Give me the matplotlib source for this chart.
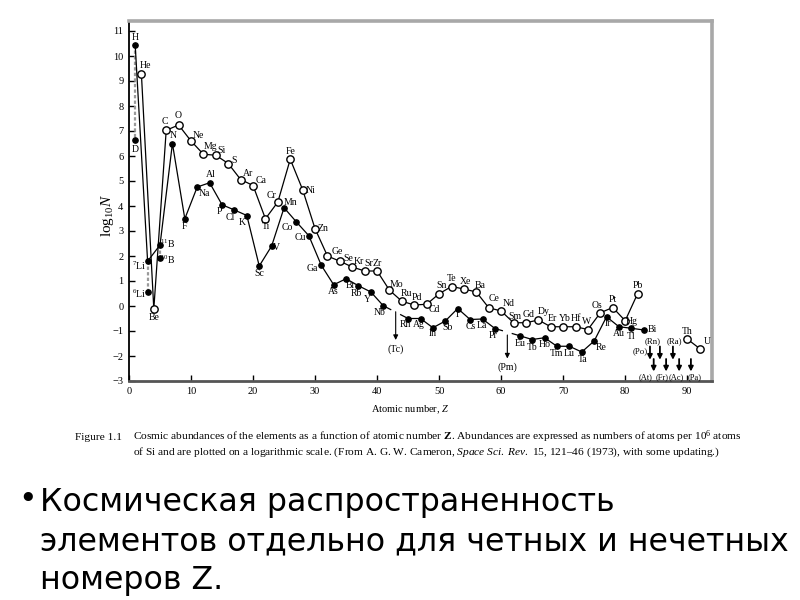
import numpy as np
import matplotlib
matplotlib.use("Agg")
import matplotlib.pyplot as plt

plt.rcParams['font.family'] = ['Liberation Serif', 'DejaVu Serif']
plt.rcParams['mathtext.fontset'] = 'custom'
plt.rcParams['mathtext.rm'] = 'Liberation Serif'
plt.rcParams['mathtext.it'] = 'Liberation Serif:italic'
plt.rcParams['mathtext.bf'] = 'Liberation Serif:bold'

# even Z -> open circles
even_z = list(range(2, 83, 2))
even_names = ['He', 'Be', 'C', 'O', 'Ne', 'Mg', 'Si', 'S', 'Ar', 'Ca', 'Ti', 'Cr', 'Fe', 'Ni',
              'Zn', 'Ge', 'Se', 'Kr', 'Sr', 'Zr', 'Mo', 'Ru', 'Pd', 'Cd', 'Sn', 'Te', 'Xe',
              'Ba', 'Ce', 'Nd', 'Sm', 'Gd', 'Dy', 'Er', 'Yb', 'Hf', 'W', 'Os', 'Pt', 'Hg', 'Pb']
even_logn = [9.28, -0.12, 7.03, 7.24, 6.60, 6.07, 6.03, 5.70, 5.06, 4.82, 3.49, 4.16, 5.87, 4.65,
             3.09, 2.00, 1.79, 1.56, 1.40, 1.40, 0.63, 0.19, 0.04, 0.07, 0.49, 0.78, 0.68,
             0.56, -0.07, -0.20, -0.67, -0.67, -0.56, -0.83, -0.83, -0.83, -0.94, -0.27, -0.06, -0.59, 0.49]

# odd Z -> filled circles (Tc, Pm have no value)
odd_z = list(range(1, 84, 2))
odd_names = ['H', r'$^{7}$Li', r'$^{11}$B', 'N', 'F', 'Na', 'Al', 'P', 'Cl', 'K', 'Sc', 'V', 'Mn', 'Co',
             'Cu', 'Ga', 'As', 'Br', 'Rb', 'Y', 'Nb', 'Tc', 'Rh', 'Ag', 'In', 'Sb', 'I', 'Cs',
             'La', 'Pr', 'Pm', 'Eu', 'Tb', 'Ho', 'Tm', 'Lu', 'Ta', 'Re', 'Ir', 'Au', 'Tl', 'Bi']
odd_logn = [10.43, 1.79, 2.44, 6.50, 3.49, 4.76, 4.93, 4.05, 3.84, 3.62, 1.60, 2.40, 3.93, 3.36,
            2.81, 1.63, 0.85, 1.09, 0.81, 0.56, 0.01, np.nan, -0.50, -0.50, -0.87, -0.60, -0.10, -0.54,
            -0.52, -0.90, np.nan, -1.19, -1.34, -1.27, -1.61, -1.61, -1.84, -1.40, -0.43, -0.83, -0.89, -0.96]

# lighter isotopes plotted under the main ones
iso_z = [1, 3, 5]
iso_names = ['D', r'$^{6}$Li', r'$^{10}$B']
iso_logn = [6.64, 0.56, 1.91]

act_z = [90, 92]
act_names = ['Th', 'U']
act_logn = [-1.32, -1.70]

# unstable elements: arrows (start, tip)
gap_names = ['(Tc)', '(Pm)']
gap_z = [43, 61]
gap_from = [-0.23, -1.16]
gap_to = [-1.36, -2.10]

heavy_top_names = ['(Po)', '(Rn)', '(Ra)']
heavy_top_z = [84, 85.6, 87.7]
heavy_bot_names = ['(At)', '(Fr)', '(Ac)', '(Pa)']
heavy_bot_z = [84.6, 86.6, 88.7, 90.6]

# label offsets in pixels (dx, dy), up is positive
lbl_off = {
    'H': (0, 8), 'D': (0, -10), 'He': (4, 8), r'$^{7}$Li': (-8, -5), r'$^{6}$Li': (-8, -2),
    'Be': (0, -8), r'$^{11}$B': (8, 1), r'$^{10}$B': (8, -2), 'C': (-1, 9), 'O': (0, 9),
    'N': (1, 8), 'F': (0, -8), 'Ne': (7, 6), 'Na': (7, -6), 'Mg': (7, 8), 'Al': (1, 8),
    'Si': (6, 5), 'P': (-3, -7), 'S': (6, 3), 'Cl': (-4, -8), 'Ar': (7, 6), 'K': (-5, -7),
    'Ca': (8, 5), 'Sc': (0, -8), 'Ti': (0, -8), 'V': (5, -1), 'Cr': (-6, 6), 'Mn': (6, 5),
    'Fe': (0, 8), 'Co': (-9, -5), 'Ni': (8, -1), 'Cu': (-8, -2), 'Zn': (8, 0), 'Ga': (-9, -3),
    'Ge': (10, 4), 'As': (0, -7), 'Se': (8, 3), 'Br': (4, -7), 'Kr': (7, 6), 'Rb': (-2, -8),
    'Sr': (4, 8), 'Y': (-4, -7), 'Zr': (0, 8), 'Nb': (-4, -7), 'Mo': (7, 6), 'Ru': (5, 8),
    'Rh': (-3, -6), 'Pd': (3, 7), 'Ag': (-2, -6), 'Cd': (8, -5), 'In': (0, -6), 'Sn': (2, 8),
    'Sb': (2, -7), 'Te': (0, 8), 'I': (0, -6), 'Xe': (2, 8), 'Cs': (1, -7), 'Ba': (4, 7),
    'La': (-1, -6), 'Ce': (5, 9), 'Pr': (-2, -7), 'Nd': (7, 7), 'Sm': (1, 6), 'Eu': (0, -8),
    'Gd': (3, 8), 'Tb': (0, -8), 'Dy': (5, 8), 'Ho': (0, -7), 'Er': (2, 8), 'Tm': (0, -7),
    'Yb': (2, 8), 'Lu': (0, -7), 'Hf': (0, 8), 'Ta': (1, -8), 'W': (-1, 8), 'Re': (7, -7),
    'Os': (-3, 7), 'Ir': (1, -7), 'Pt': (0, 8), 'Au': (0, -7), 'Hg': (6, -1), 'Tl': (0, -8),
    'Pb': (0, 8), 'Bi': (9, 0), 'Th': (0, 8), 'U': (8, 7),
}
# label positions (in Z) of the heavy-element arrows
heavy_top_lbl = [(82.4, -1.82), (84.4, -1.42), (87.9, -1.42)]
heavy_bot_lbl = [83.3, 86.0, 88.3, 91.2]

fig = plt.figure(figsize=(8, 6), dpi=100)
ax = fig.add_axes([129 / 800, 1 - 381 / 600, (712 - 129) / 800, 360 / 600])

lw = 0.9
ax.plot(even_z, even_logn, color='black', lw=lw, marker='o', ms=5.3, mfc='white',
        mec='black', mew=1.0, zorder=3)
ax.plot(odd_z, odd_logn, color='black', lw=lw, marker='o', ms=3.8, mfc='black',
        mec='black', zorder=3)
ax.plot(iso_z, iso_logn, ls='none', marker='o', ms=3.8, color='black', zorder=3)
ax.plot(act_z, act_logn, color='black', lw=lw, marker='o', ms=5.3, mfc='white',
        mec='black', mew=1.0, zorder=3)

# dashed grey connectors between isotopes of the same element
odd_map = dict(zip(odd_z, odd_logn))
for z, v in zip(iso_z, iso_logn):
    ax.plot([z, z], [odd_map[z], v], color='#9a9a9a', lw=1.6, ls=(0, (1.5, 1)), zorder=2)

# short stubs of the odd line at the missing elements
for z in gap_z:
    za, zb = z - 2, z + 2
    ya, yb = odd_map[za], odd_map[zb]
    f = 0.3
    ax.plot([za, za + f * (zb - za)], [ya, ya + f * (yb - ya)], color='black', lw=lw)
    ax.plot([zb - f * (zb - za), zb], [yb - f * (yb - ya), yb], color='black', lw=lw)

for name, z, y0, y1 in zip(gap_names, gap_z, gap_from, gap_to):
    ax.annotate('', xy=(z, y1), xytext=(z, y0),
                arrowprops=dict(arrowstyle='-|>', color='black', lw=0.8,
                                mutation_scale=7, shrinkA=0, shrinkB=0))
    ax.text(z, y1 - 0.35, name, ha='center', va='center', fontsize=7.2)

for name, z, (lx, ly) in zip(heavy_top_names, heavy_top_z, heavy_top_lbl):
    ax.annotate('', xy=(z, -2.15), xytext=(z, -1.62),
                arrowprops=dict(arrowstyle='-|>', color='black', lw=1.3,
                                mutation_scale=7, shrinkA=0, shrinkB=0))
    ax.text(lx, ly, name, ha='center', va='center', fontsize=6.3)
for name, z, lx in zip(heavy_bot_names, heavy_bot_z, heavy_bot_lbl):
    ax.annotate('', xy=(z, -2.62), xytext=(z, -2.12),
                arrowprops=dict(arrowstyle='-|>', color='black', lw=1.3,
                                mutation_scale=7, shrinkA=0, shrinkB=0))
    ax.text(lx, -2.84, name, ha='center', va='center', fontsize=6.0)

# element labels
all_pts = list(zip(even_z, even_logn, even_names)) + list(zip(odd_z, odd_logn, odd_names)) \
    + list(zip(iso_z, iso_logn, iso_names)) + list(zip(act_z, act_logn, act_names))
for z, v, name in all_pts:
    if np.isnan(v):
        continue
    dx, dy = lbl_off.get(name, (0, 7))
    ax.annotate(name, (z, v), xytext=(dx, dy), textcoords='offset pixels',
                ha='center', va='center', fontsize=7)

ax.set_xlim(0, 94)
ax.set_ylim(-3, 11.4)
ax.set_xticks(range(0, 91, 10))
ax.set_yticks(range(-3, 12))
ax.tick_params(direction='in', length=4, width=1, labelsize=7.5, pad=4,
               top=False, right=False)
ax.spines['left'].set_linewidth(1.3)
ax.spines['bottom'].set_linewidth(2)
ax.spines['bottom'].set_color('#555555')
for s in ['top', 'right']:
    ax.spines[s].set_linewidth(2.6)
    ax.spines[s].set_color('#a8a8a8')

fig.text(108 / 800, 1 - 215 / 600, r'log$_{10}$$N$', rotation=90, fontsize=11,
         ha='center', va='center')
fig.text(410 / 800, 1 - 410 / 600, r'Atomic number, $\mathit{Z}$', fontsize=7.5,
         ha='center', va='center')

cap = dict(fontsize=8.2, va='center')
fig.text(75 / 800, 1 - 437 / 600, 'Figure 1.1', **cap)
fig.text(133 / 800, 1 - 437 / 600,
         r'Cosmic abundances of the elements as a function of atomic number $\mathbf{Z}$. '
         r'Abundances are expressed as numbers of atoms per 10$^{6}$ atoms', **cap)
fig.text(133 / 800, 1 - 452 / 600,
         r'of Si and are plotted on a logarithmic scale. (From A. G. W. Cameron, '
         r'$\mathit{Space\ Sci.\ Rev.}$ 15, 121–46 (1973), with some updating.)', **cap)

ru = dict(family='DejaVu Sans', fontsize=22.8, va='baseline')
fig.text(18 / 800, 1 - 508 / 600, '•', **ru)
fig.text(40 / 800, 1 - 511 / 600, 'Космическая распространенность', **ru)
fig.text(40 / 800, 1 - 550 / 600, 'элементов отдельно для четных и нечетных', **ru)
fig.text(40 / 800, 1 - 589 / 600, 'номеров Z.', **ru)

fig.savefig('out.png', dpi=100)
